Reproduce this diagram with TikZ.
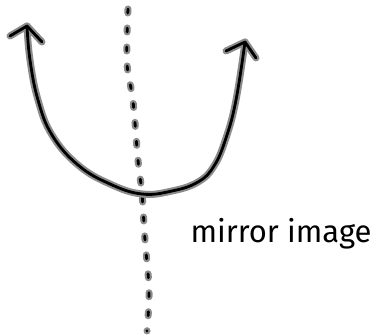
\documentclass[tikz,border=0pt]{standalone}
\usepackage{fontspec}
\newfontfamily\handfont{Fira Sans}
\usetikzlibrary{calc}

\begin{document}
\begin{tikzpicture}[
  x=1pt, y=-1pt,
  halo/.style   = {draw=gray!90, line width=7pt, line cap=round, line join=round},
  ink/.style    = {draw=black, line width=2.8pt, line cap=round, line join=round},
  dots/.style   = {dash pattern=on 4pt off 15pt},
  label/.style  = {font=\handfont\fontsize{31}{31}\selectfont, inner sep=0pt},
]
\useasboundingbox (0,0) rectangle (380,336);

%% ─── points ───────────────────────────────────────────────────────────────
\coordinate (ltip) at (27,26);
\coordinate (rtip) at (245,42);
\coordinate (bot)  at (142,194);
\coordinate (mtop) at (128,9);
\coordinate (mbot) at (147,331);

%% ─── mirror line (dotted) ─────────────────────────────────────────────────
\foreach \s in {halo, ink}
  \draw[\s, dots] plot[smooth, tension=0.6] coordinates
    {(mtop) (127,63) (133,101) (138,160) (bot) (145,240) (149,290) (mbot)};

%% ─── U curve with two heads ───────────────────────────────────────────────
\foreach \s in {halo, ink} {
  \draw[\s] plot[smooth, tension=0.7] coordinates
    {(ltip) (30,60) (38,100) (52,135) (78,165) (110,184) (bot) (172,191)
     (198,182) (214,166) (226,138) (236,100) (rtip)};
  \draw[\s] (10,36) -- (ltip) -- (42,42);
  \draw[\s] (226,51) -- (rtip) -- (256,58);
}

%% ─── label ────────────────────────────────────────────────────────────────
\node[label] (lbl) at (281,234) {mirror image};

\end{tikzpicture}
\end{document}
